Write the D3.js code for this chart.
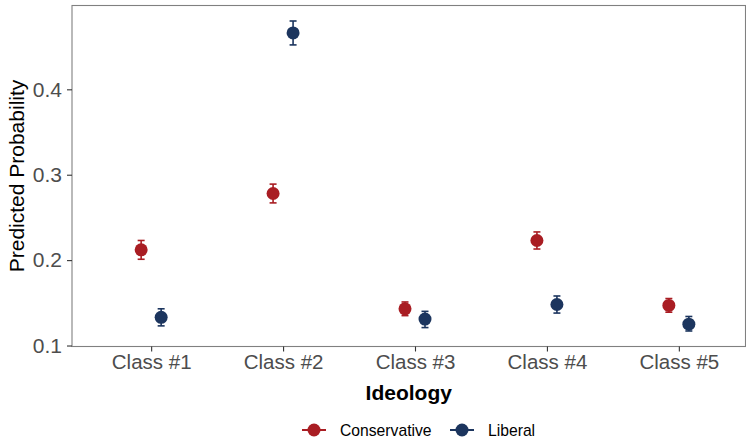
<!DOCTYPE html>
<html>
<head>
<meta charset="utf-8">
<script src="https://cdn.jsdelivr.net/npm/d3@7"></script>
<style>
  html, body { margin: 0; padding: 0; background: #fff; }
  svg { display: block; font-family: "Liberation Sans", Arial, sans-serif; }
</style>
</head>
<body>
<svg id="chart" width="746" height="440"></svg>
<script>
// Predicted probability of latent class membership by ideology
const classes = ["Class #1", "Class #2", "Class #3", "Class #4", "Class #5"];
const groups = ["Conservative", "Liberal"];
const groupColors = ["#A91D23", "#1C355E"];

const conservativeEst = [0.212, 0.278, 0.143, 0.223, 0.147];
const conservativeLow = [0.201, 0.267, 0.135, 0.213, 0.139];
const conservativeHigh = [0.223, 0.289, 0.151, 0.233, 0.155];

const liberalEst = [0.133, 0.466, 0.131, 0.148, 0.125];
const liberalLow = [0.123, 0.452, 0.121, 0.138, 0.117];
const liberalHigh = [0.143, 0.480, 0.140, 0.158, 0.134];

const yTicks = [0.1, 0.2, 0.3, 0.4];

const rows = [];
classes.forEach((c, i) => {
  rows.push({ cls: c, group: groups[0], est: conservativeEst[i], lo: conservativeLow[i], hi: conservativeHigh[i] });
  rows.push({ cls: c, group: groups[1], est: liberalEst[i], lo: liberalLow[i], hi: liberalHigh[i] });
});

const svg = d3.select("#chart");
const panel = { left: 72, top: 5.5, right: 745.5, bottom: 346.5 };

// y domain: data range expanded by 5% on each side
const yMin = d3.min(rows, d => d.lo), yMax = d3.max(rows, d => d.hi);
const pad = (yMax - yMin) * 0.05;
const y = d3.scaleLinear().domain([yMin - pad, yMax + pad]).range([panel.bottom, panel.top]);

const x = d3.scalePoint().domain(classes).range([panel.left, 758]).padding(0.6);
const dodge = d3.scalePoint().domain(groups).range([-10, 10]);
const color = d3.scaleOrdinal().domain(groups).range(groupColors);

// panel border
svg.append("rect")
  .attr("x", panel.left).attr("y", panel.top)
  .attr("width", panel.right - panel.left).attr("height", panel.bottom - panel.top)
  .attr("fill", "none").attr("stroke", "#808080").attr("stroke-width", 1.1);

// y axis
const yAxis = svg.append("g").attr("transform", `translate(${panel.left},0)`)
  .call(d3.axisLeft(y).tickValues(yTicks).tickFormat(d3.format(".1f")).tickSize(5).tickPadding(5));
yAxis.select(".domain").remove();
yAxis.selectAll(".tick line").attr("stroke", "#333").attr("stroke-width", 1.1);
yAxis.selectAll(".tick text").attr("fill", "#4D4D4D").attr("font-size", 21).attr("font-family", "Liberation Sans, Arial, sans-serif");

// x axis
const xAxis = svg.append("g").attr("transform", `translate(0,${panel.bottom})`)
  .call(d3.axisBottom(x).tickSize(5).tickPadding(3));
xAxis.select(".domain").remove();
xAxis.selectAll(".tick line").attr("stroke", "#333").attr("stroke-width", 1.1);
xAxis.selectAll(".tick text").attr("fill", "#4D4D4D").attr("font-size", 20.5).attr("font-family", "Liberation Sans, Arial, sans-serif");

// axis titles
svg.append("text")
  .attr("transform", `translate(24,${(panel.top + panel.bottom) / 2}) rotate(-90)`)
  .attr("text-anchor", "middle").attr("font-size", 21).attr("fill", "#000")
  .text("Predicted Probability");
svg.append("text")
  .attr("x", (panel.left + panel.right) / 2).attr("y", 400)
  .attr("text-anchor", "middle").attr("font-size", 21).attr("font-weight", "bold").attr("fill", "#000")
  .text("Ideology");

// point ranges
const marks = svg.append("g");
const capW = 3.5;
const g = marks.selectAll("g.pr").data(rows).join("g")
  .attr("transform", d => `translate(${x(d.cls) + dodge(d.group)},0)`)
  .attr("stroke", d => color(d.group)).attr("fill", d => color(d.group));
g.append("line").attr("y1", d => y(d.lo)).attr("y2", d => y(d.hi)).attr("stroke-width", 1.6);
g.append("line").attr("x1", -capW).attr("x2", capW).attr("y1", d => y(d.hi)).attr("y2", d => y(d.hi)).attr("stroke-width", 1.6);
g.append("line").attr("x1", -capW).attr("x2", capW).attr("y1", d => y(d.lo)).attr("y2", d => y(d.lo)).attr("stroke-width", 1.6);
g.append("circle").attr("cy", d => y(d.est)).attr("r", 6.5).attr("stroke", "none");

// legend
const legendY = 430;
const legendItems = [
  { group: groups[0], x: 314 },
  { group: groups[1], x: 462 }
];
const lg = svg.append("g").selectAll("g").data(legendItems).join("g")
  .attr("transform", d => `translate(${d.x},${legendY})`);
lg.append("line").attr("x1", -12).attr("x2", 12).attr("stroke", d => color(d.group)).attr("stroke-width", 2);
lg.append("circle").attr("r", 6.5).attr("fill", d => color(d.group));
lg.append("text").attr("x", 26).attr("dy", "0.35em").attr("font-size", 15.7).attr("fill", "#000")
  .text(d => d.group);
</script>
</body>
</html>
